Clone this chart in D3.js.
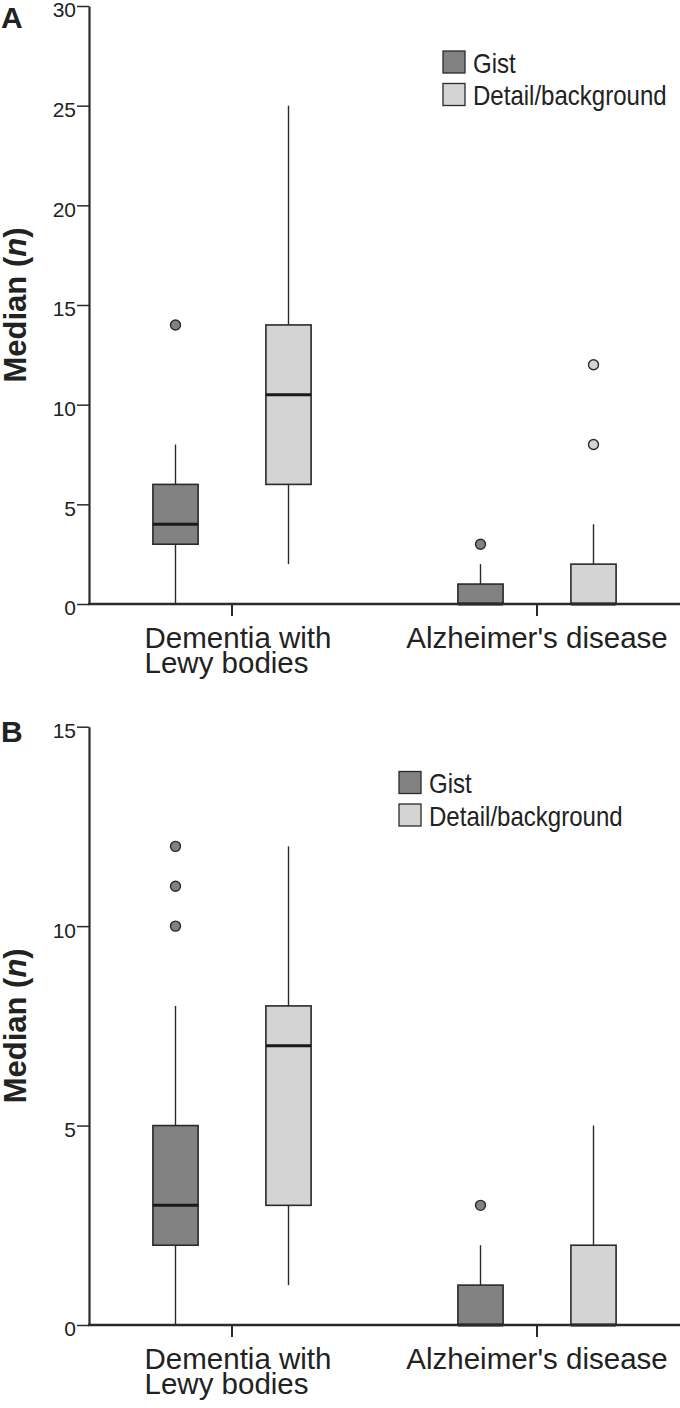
<!DOCTYPE html>
<html>
<head>
<meta charset="utf-8">
<script src="https://cdn.jsdelivr.net/npm/d3@7/dist/d3.min.js"></script>
<style>
  html, body { margin: 0; padding: 0; background: #fff; }
  svg { display: block; font-family: "Liberation Sans", Arial, Helvetica, sans-serif; }
</style>
</head>
<body>
<svg id="chart" width="680" height="1408"></svg>
<script>
// ---------- data ----------
const categories = ["Dementia with Lewy bodies", "Alzheimer's disease"];
const categoryLines = [["Dementia with", "Lewy bodies"], ["Alzheimer's disease"]];
const series = ["Gist", "Detail/background"];
const seriesColors = ["#828282", "#d4d4d4"];

// box stats per category: [whiskerLow, q1, median, q3, whiskerHigh]
const panelA_gist = [[0, 3, 4, 6, 8], [0, 0, 0, 1, 2]];
const panelA_gistOutliers = [[14], [3]];
const panelA_detail = [[2, 6, 10.5, 14, 25], [0, 0, 0, 2, 4]];
const panelA_detailOutliers = [[], [8, 12]];
const panelA_ticks = [0, 5, 10, 15, 20, 25, 30];

const panelB_gist = [[0, 2, 3, 5, 8], [0, 0, 0, 1, 2]];
const panelB_gistOutliers = [[10, 11, 12], [3]];
const panelB_detail = [[1, 3, 7, 8, 12], [0, 0, 0, 2, 5]];
const panelB_detailOutliers = [[], []];
const panelB_ticks = [0, 5, 10, 15];

const yLabel = "Median";
const yLabelItalic = "n";

// ---------- drawing ----------
const svg = d3.select("#chart");
svg.append("rect").attr("width", 680).attr("height", 1408).attr("fill", "#fff");

const axisX = 89;
const x = d3.scaleBand().domain(categories).range([79.5, 689.5]).padding(0);
const x1 = d3.scaleBand().domain(series).range([-113, 113]);
const boxW = x1.bandwidth() * 0.4;
const dark = "#2a2a2a";
const font = "'Liberation Sans', Arial, sans-serif";

function drawPanel(cfg) {
  const g = svg.append("g");
  const y = d3.scaleLinear().domain([0, d3.max(cfg.ticks)]).range([cfg.y0, cfg.y1]);

  const data = [
    { s: series[0], stats: cfg.gist, out: cfg.gistOut, color: seriesColors[0] },
    { s: series[1], stats: cfg.detail, out: cfg.detailOut, color: seriesColors[1] }
  ];

  data.forEach(d => {
    categories.forEach((c, i) => {
      const [lo, q1, med, q3, hi] = d.stats[i];
      const cx = x(c) + x.bandwidth() / 2 + x1(d.s) + x1.bandwidth() / 2;
      if (hi > q3) g.append("line").attr("x1", cx).attr("x2", cx).attr("y1", y(q3)).attr("y2", y(hi))
        .attr("stroke", dark).attr("stroke-width", 1.4);
      if (lo < q1) g.append("line").attr("x1", cx).attr("x2", cx).attr("y1", y(q1)).attr("y2", y(lo))
        .attr("stroke", dark).attr("stroke-width", 1.4);
      g.append("rect").attr("x", cx - boxW / 2).attr("y", y(q3)).attr("width", boxW)
        .attr("height", Math.max(0, y(q1) - y(q3)))
        .attr("fill", d.color).attr("stroke", dark).attr("stroke-width", 1.6);
      g.append("line").attr("x1", cx - boxW / 2).attr("x2", cx + boxW / 2)
        .attr("y1", y(med)).attr("y2", y(med)).attr("stroke", "#1a1a1a").attr("stroke-width", 3);
      d.out[i].forEach(v => {
        g.append("circle").attr("cx", cx).attr("cy", y(v)).attr("r", 5)
          .attr("fill", d.color).attr("stroke", dark).attr("stroke-width", 1.4);
      });
    });
  });

  // y axis
  const yAxis = d3.axisLeft(y).tickValues(cfg.ticks).tickSize(12).tickSizeOuter(0).tickPadding(1)
    .tickFormat(d3.format("d"));
  const ya = g.append("g").attr("transform", `translate(${axisX},0)`).call(yAxis);
  ya.select(".domain").attr("stroke", dark).attr("stroke-width", 2.2);
  ya.selectAll(".tick line").attr("stroke", dark).attr("stroke-width", 1.5);
  ya.selectAll(".tick text").attr("font-size", 21).attr("fill", "#222").attr("dy", "0.52em")
    .attr("font-family", font);

  // x axis
  const xAxis = d3.axisBottom(x).tickSize(12).tickSizeOuter(0).tickFormat("");
  const xa = g.append("g").attr("transform", `translate(0,${cfg.y0})`).call(xAxis);
  xa.select(".domain").remove();
  xa.selectAll(".tick line").attr("stroke", dark).attr("stroke-width", 2);
  g.append("line").attr("x1", axisX - 1).attr("x2", x.range()[1]).attr("y1", cfg.y0).attr("y2", cfg.y0)
    .attr("stroke", dark).attr("stroke-width", 2.6);

  // category labels (left-aligned block, roughly centred under tick)
  categories.forEach((c, i) => {
    const cxc = x(c) + x.bandwidth() / 2;
    const lines = categoryLines[i];
    const t = g.append("text").attr("y", cfg.y0 + 44)
      .attr("font-size", 29.5).attr("fill", "#222");
    const spans = lines.map((ln, k) =>
      t.append("tspan").attr("dy", k === 0 ? 0 : 25).text(ln));
    const w = d3.max(spans, s => s.node().getComputedTextLength());
    const left = lines.length > 1 ? cxc - w / 2 + 6 : cxc - w / 2;
    spans.forEach(s => s.attr("x", left));
  });

  // y label
  const yl = g.append("text")
    .attr("transform", `translate(26,${(cfg.y0 + cfg.y1) / 2}) rotate(-90)`)
    .attr("text-anchor", "middle").attr("font-size", 31).attr("font-weight", "bold").attr("fill", "#222");
  yl.append("tspan").text(yLabel + " (");
  yl.append("tspan").attr("font-style", "italic").text(yLabelItalic);
  yl.append("tspan").text(")");

  // panel letter
  g.append("text").attr("x", 1).attr("y", cfg.letterY).attr("font-size", 30).attr("font-weight", "bold")
    .attr("fill", "#222").text(cfg.letter);

  // legend
  const lg = g.append("g").attr("transform", `translate(${cfg.legX},${cfg.legY})`);
  series.forEach((s, i) => {
    lg.append("rect").attr("x", 0).attr("y", i * 32.5).attr("width", 22).attr("height", 22)
      .attr("fill", seriesColors[i]).attr("stroke", dark).attr("stroke-width", 1.3);
    lg.append("text").attr("transform", `translate(30,${i * 32.5 + 21.5}) scale(0.89,1)`)
      .attr("font-size", 27).attr("fill", "#222").text(s);
  });
}

drawPanel({ y0: 604, y1: 6, ticks: panelA_ticks, gist: panelA_gist, gistOut: panelA_gistOutliers,
  detail: panelA_detail, detailOut: panelA_detailOutliers, letter: "A", letterY: 28, legX: 443, legY: 51 });
drawPanel({ y0: 1325, y1: 726.7, ticks: panelB_ticks, gist: panelB_gist, gistOut: panelB_gistOutliers,
  detail: panelB_detail, detailOut: panelB_detailOutliers, letter: "B", letterY: 742, legX: 399, legY: 771.5 });
</script>
</body>
</html>
